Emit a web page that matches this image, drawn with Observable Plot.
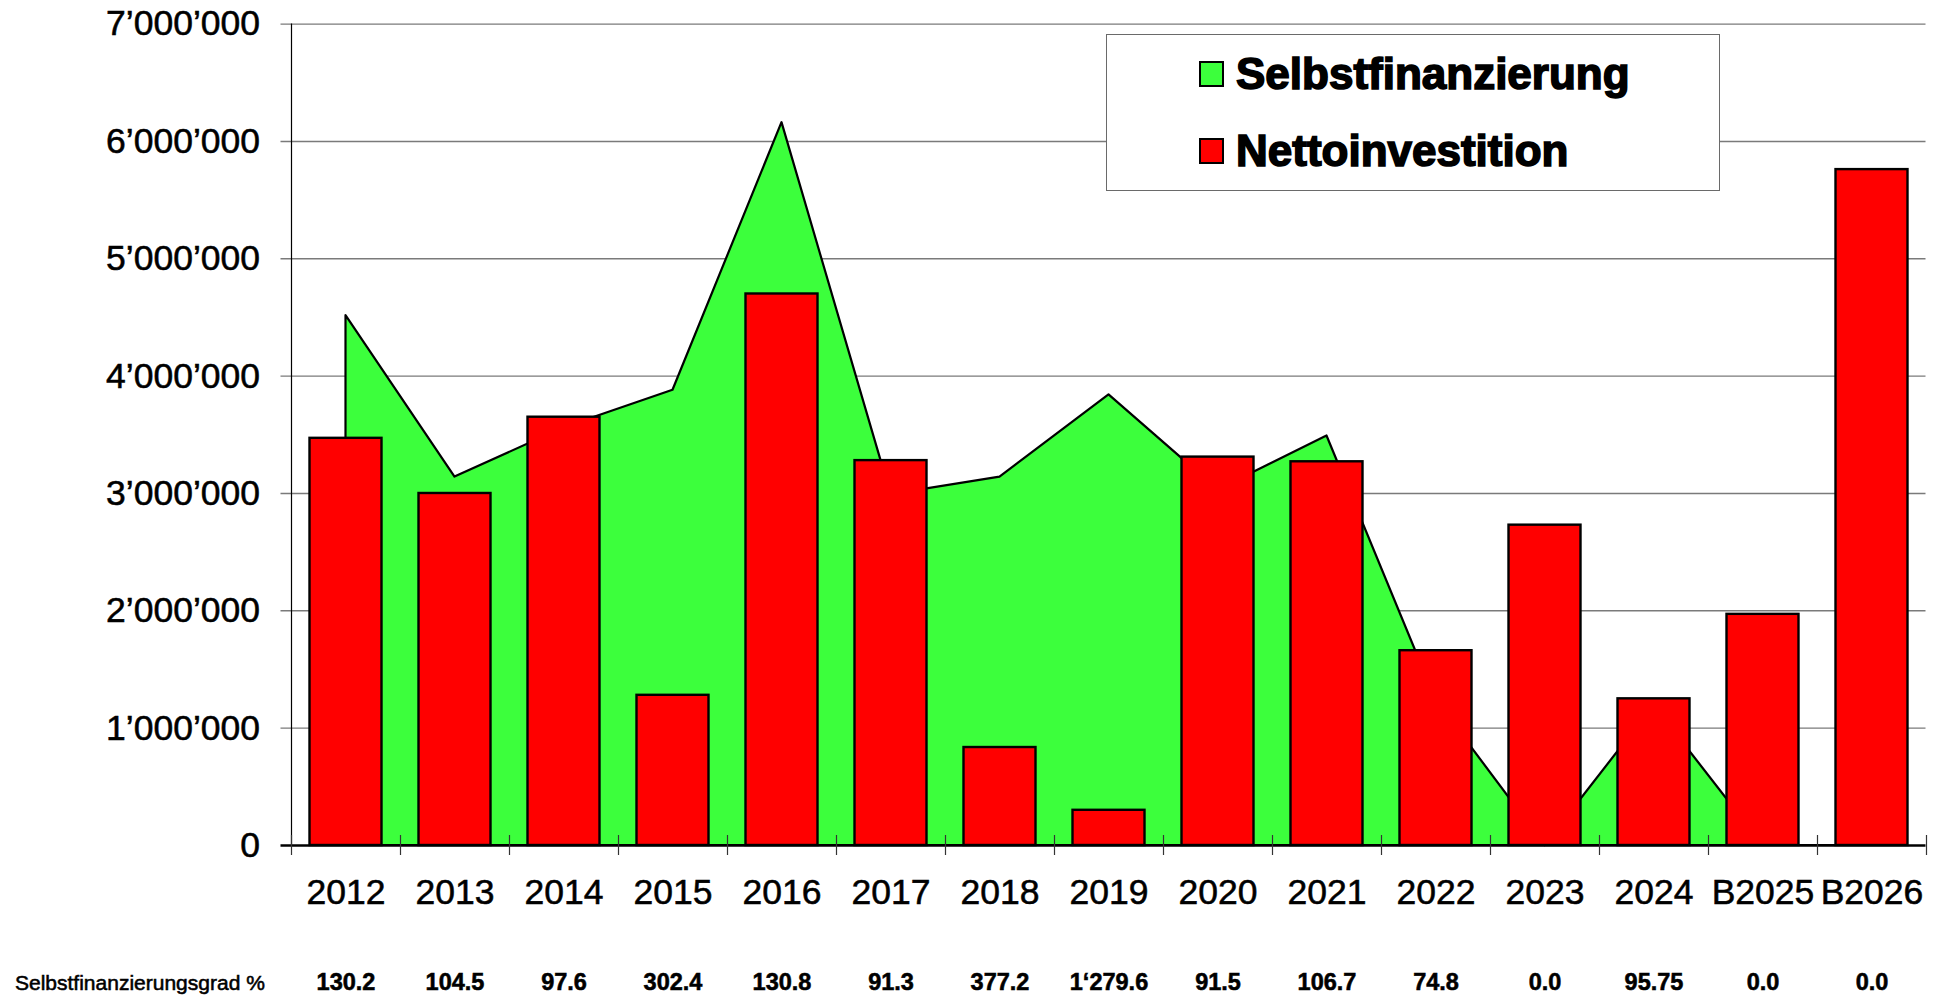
<!DOCTYPE html>
<html><head><meta charset="utf-8">
<script src="https://cdn.jsdelivr.net/npm/d3@7"></script>
<script src="https://cdn.jsdelivr.net/npm/@observablehq/plot@0.6"></script>
<style>
html,body{margin:0;padding:0;background:#fff;}
#wrap{position:relative;width:1946px;height:1005px;font-family:"Liberation Sans",Arial,sans-serif;}
#chart svg text{stroke:#000;stroke-width:0.55px;}
#legend{position:absolute;left:1106px;top:34px;width:614px;height:157px;border:1.5px solid #6a6a6a;background:#fff;box-sizing:border-box;}
.item{position:absolute;left:92px;height:50px;display:flex;align-items:center;font-weight:bold;font-size:44px;color:#000;-webkit-text-stroke:1.6px #000;white-space:nowrap;}
.sw{width:25px;height:26px;border:2.2px solid #000;box-sizing:border-box;margin-right:12px;flex:none;}
</style>
</head><body>
<div id="wrap"><div id="chart"></div>
<div id="legend">
  <div class="item" style="top:14px"><span class="sw" style="background:#3cff3c"></span><span id="l1"></span></div>
  <div class="item" style="top:91px"><span class="sw" style="background:#ff0000"></span><span id="l2"></span></div>
</div>
</div>
<script>
const categories = ["2012","2013","2014","2015","2016","2017","2018","2019","2020","2021","2022","2023","2024","B2025","B2026"];
const nettoinvestition = [3470000, 3000000, 3650000, 1280000, 4700000, 3280000, 835000, 300000, 3310000, 3270000, 1660000, 2730000, 1250000, 1970000, 5760000];
const selbstfinanzierung = [4515000, 3140000, 3560000, 3880000, 6160000, 2990000, 3140000, 3840000, 3030000, 3490000, 1240000, 0, 1195000, 0, 0];
const gradLabels = ["130.2","104.5","97.6","302.4","130.8","91.3","377.2","1\u2018279.6","91.5","106.7","74.8","0.0","95.75","0.0","0.0"];
const yTicks = [0, 1000000, 2000000, 3000000, 4000000, 5000000, 6000000, 7000000];
const seriesNames = ["Selbstfinanzierung", "Nettoinvestition"];
const rowLabel = "Selbstfinanzierungsgrad %";

document.getElementById("l1").textContent = seriesNames[0];
document.getElementById("l2").textContent = seriesNames[1];

const width = 1946, height = 1005;
const mL = 290.5, mR = 20.5, mT = 23.6, mB = 160;
const bw = (width - mL - mR) / categories.length;
const data = categories.map((c, i) => ({cat: c, netto: nettoinvestition[i], selbst: selbstfinanzierung[i], grad: gradLabels[i]}));
const fmt = d3.formatLocale({thousands: "\u2019", grouping: [3], decimal: ".", currency: ["", ""]}).format(",");

const chart = Plot.plot({
  width, height,
  marginLeft: mL, marginRight: mR, marginTop: mT, marginBottom: mB,
  style: {fontFamily: "Liberation Sans, Arial, sans-serif", background: "#fff", color: "#000", overflow: "visible"},
  x: {type: "band", domain: categories, padding: 0, label: null},
  y: {domain: [0, 7000000], label: null},
  marks: [
    Plot.ruleY(yTicks.filter(d => d > 0), {stroke: "#7a7a7a", strokeWidth: 1.4, insetLeft: -10}),
    Plot.axisY({ticks: yTicks, tickSize: 0, tickPadding: 31, tickFormat: fmt, fontSize: 35.5, label: null}),
    Plot.areaY(data, {x: "cat", y: "selbst", fill: "#3cff3c", stroke: "#000", strokeWidth: 2.2, curve: "linear"}),
    Plot.barY(data, {x: "cat", y: "netto", fill: "#ff0000", stroke: "#000", strokeWidth: 2.4, insetLeft: 18.5, insetRight: 18.5}),
    Plot.ruleX([categories[0]], {x: d => d, dx: -bw / 2, y1: 0, y2: 7000000, stroke: "#000", strokeWidth: 1.2}),
    Plot.ruleY([0], {stroke: "#000", strokeWidth: 2.5, insetLeft: -10}),
    Plot.ruleX(categories, {x: d => d, dx: -bw / 2, y1: 0, y2: 0, insetTop: -10, insetBottom: -10, stroke: "#333", strokeWidth: 1.2}),
    Plot.ruleX([categories[categories.length - 1]], {x: d => d, dx: bw / 2, y1: 0, y2: 0, insetTop: -10, insetBottom: -10, stroke: "#333", strokeWidth: 1.2}),
    Plot.axisX({tickSize: 0, tickPadding: 33, fontSize: 35.5, label: null}),
    Plot.text(data, {x: "cat", text: "grad", frameAnchor: "bottom", dy: 144, fontWeight: "bold", fontSize: 23.5}),
    Plot.text([rowLabel], {text: d => d, frameAnchor: "bottom-left", dx: -276, dy: 144, textAnchor: "start", fontSize: 21})
  ]
});
document.getElementById("chart").appendChild(chart);
</script>
</body></html>
